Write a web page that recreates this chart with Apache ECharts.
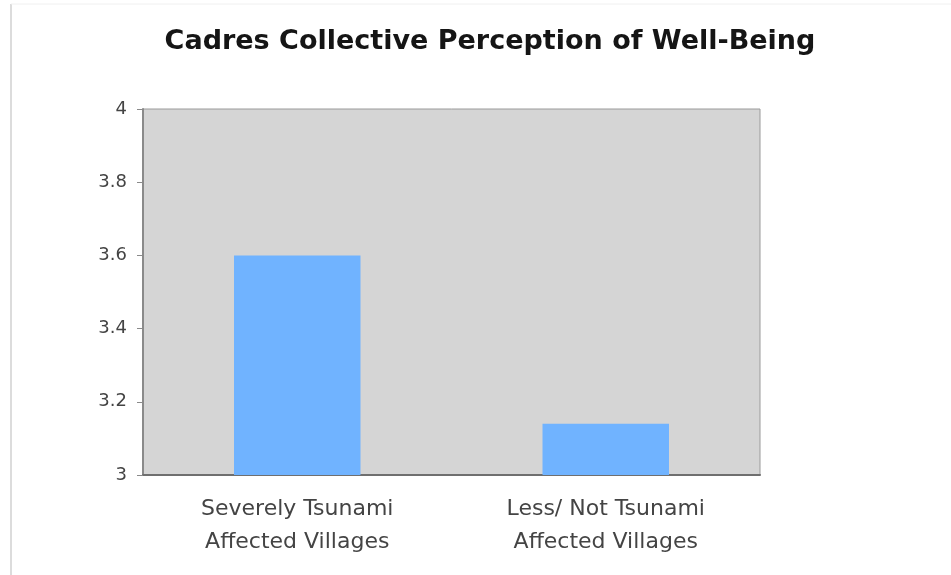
<!DOCTYPE html>
<html><head><meta charset="utf-8">
<script src="https://cdn.jsdelivr.net/npm/echarts@6/dist/echarts.min.js"></script>
<style>html,body{margin:0;padding:0;background:#fff;}#c{width:951px;height:575px;}</style>
</head><body><div id="c"></div>
<script>
const categories = ["Severely Tsunami\nAffected Villages", "Less/ Not Tsunami\nAffected Villages"];
const values = [3.6, 3.14];
const yTicks = [3, 3.2, 3.4, 3.6, 3.8, 4];

const chart = echarts.init(document.getElementById('c'));
chart.setOption({
  backgroundColor: '#ffffff',
  graphic: [{type: 'line', shape: {x1: 11, y1: 4, x2: 11, y2: 575}, style: {stroke: '#dcdcdc', lineWidth: 2}},
            {type: 'line', shape: {x1: 11, y1: 4, x2: 951, y2: 4}, style: {stroke: '#f0f0f0', lineWidth: 1}}],
  title: {
    text: 'Cadres Collective Perception of Well-Being',
    left: 485, top: 23, textAlign: 'center',
    textStyle: {fontFamily: 'DejaVu Sans', fontWeight: 'bold', fontSize: 27, color: '#151515'}
  },
  grid: {left: 143, right: 191, top: 109, bottom: 100, show: true,
         backgroundColor: '#d5d5d5', borderColor: '#9a9a9a', borderWidth: 1},
  xAxis: {
    type: 'category', data: categories,
    axisLine: {lineStyle: {color: '#6f6f6f', width: 2}},
    axisTick: {show: false},
    axisLabel: {fontFamily: 'DejaVu Sans', fontSize: 22, color: '#444', lineHeight: 33, margin: 18}
  },
  yAxis: {
    type: 'value', min: 3, max: 4, interval: 0.2,
    axisLine: {show: true, lineStyle: {color: '#8a8a8a', width: 2}},
    axisTick: {show: true, length: 6, lineStyle: {color: '#8a8a8a'}},
    splitLine: {show: false},
    axisLabel: {fontFamily: 'DejaVu Sans', fontSize: 18, color: '#444', margin: 16,
      formatter: v => { const r = Math.round(v*10)/10; return yTicks.includes(r) ? String(r) : ''; }}
  },
  series: [{
    type: 'bar', data: values, barWidth: '41%',
    itemStyle: {color: '#70b3ff'}
  }]
});
</script></body></html>
